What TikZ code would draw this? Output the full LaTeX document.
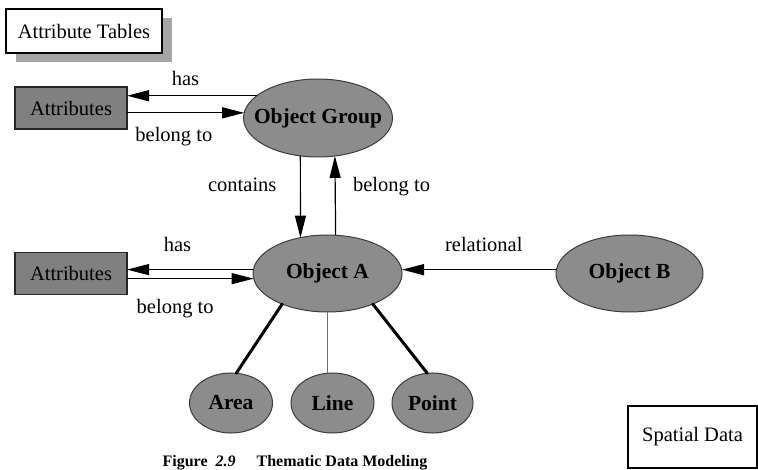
\documentclass[tikz,border=0pt]{standalone}
\usepackage{fontspec}
\setmainfont{Liberation Serif}
\usetikzlibrary{arrows.meta,shapes.geometric,shadows}
\definecolor{objgray}{RGB}{140,140,140}
\definecolor{attgray}{RGB}{128,128,128}
\definecolor{rimgray}{RGB}{60,60,60}
\definecolor{shadegray}{RGB}{165,165,165}
\definecolor{linegray}{RGB}{110,110,110}
\begin{document}
\begin{tikzpicture}[x=1pt,y=-1pt,-{Triangle[length=22pt,width=11pt]},
line width=1.2pt,font=\fontsize{20.5}{24}\selectfont,
object/.style={ellipse,draw=rimgray,fill=objgray,line width=1pt,inner xsep=-14pt,inner ysep=0pt,outer sep=0pt,
  minimum width=149pt,minimum height=77pt,font=\fontsize{21.5}{24}\selectfont\bfseries},
part/.style={object,minimum width=83pt,minimum height=60pt},
attr/.style={rectangle,draw=black!85,fill=attgray,line width=1.3pt,inner sep=0pt,outer sep=0pt,
  minimum width=112pt,minimum height=42pt},
tablebox/.style={rectangle,draw,fill=white,line width=1.3pt,inner sep=0pt,outer sep=0pt,
  minimum width=156pt,minimum height=44pt,
  drop shadow={shadow xshift=10pt,shadow yshift=-9pt,fill=shadegray,opacity=1}},
spoke/.style={-,line width=3pt,line cap=round}]

\useasboundingbox (0,0) rectangle (758,470);

\node[tablebox] (T) at (84,31) {Attribute Tables};
\node[attr] (B1) at (71,108) {Attributes};
\node[object,minimum height=78pt] (G) at (318,118) {Object Group};
\node[attr] (B2) at (71,273.5) {Attributes};
\node[object] (A) at (327.5,273.5) {Object A};
\node[object,minimum width=147pt] (O) at (629.5,273.5) {Object B};

\path (G.160) edge node[above=6pt,pos=0.55] {has} (B1.east |- G.160);
\path (B1.east |- G.176) edge node[below=11pt,pos=0.4] {belong to} (G.176);
\path (G.245) edge node[left=20pt,pos=0.36] {contains} (A.127);
\path (A.78) edge node[right=14pt,pos=0.61] {belong to} (G.294);

\path (A.177) edge node[above=14pt,pos=0.6] {has} (B2.east |- A.177);
\path (B2.east |- A.184) edge node[below=17pt,pos=0.38] {belong to} (A.184);
\path (O.177) edge node[above=14pt,pos=0.47] {relational} (A.east |- O.177);

% geometry parts
\node[part] (R) at (231,403) {Area};
\node[part] (L) at (332.5,403) {Line};
\node[part,minimum width=81pt] (P) at (432.5,403) {Point};
\path (A.214) edge[spoke] (R.80);
\path (A.south) edge[-,linegray,line width=1.5pt] (A.south |- L.north);
\path (A.326) edge[spoke] (P.100);

\node[rectangle,draw,line width=1.2pt,inner sep=0pt,minimum width=129pt,minimum height=62pt] (S) at (692.5,437) {Spatial Data};

\node[anchor=base west,inner sep=0pt,font=\fontsize{16}{18}\selectfont\bfseries] (F) at (162,466)
  {Figure\hspace{8pt}\textit{2.9}\hspace{21pt}Thematic Data Modeling};

\end{tikzpicture}
\end{document}
